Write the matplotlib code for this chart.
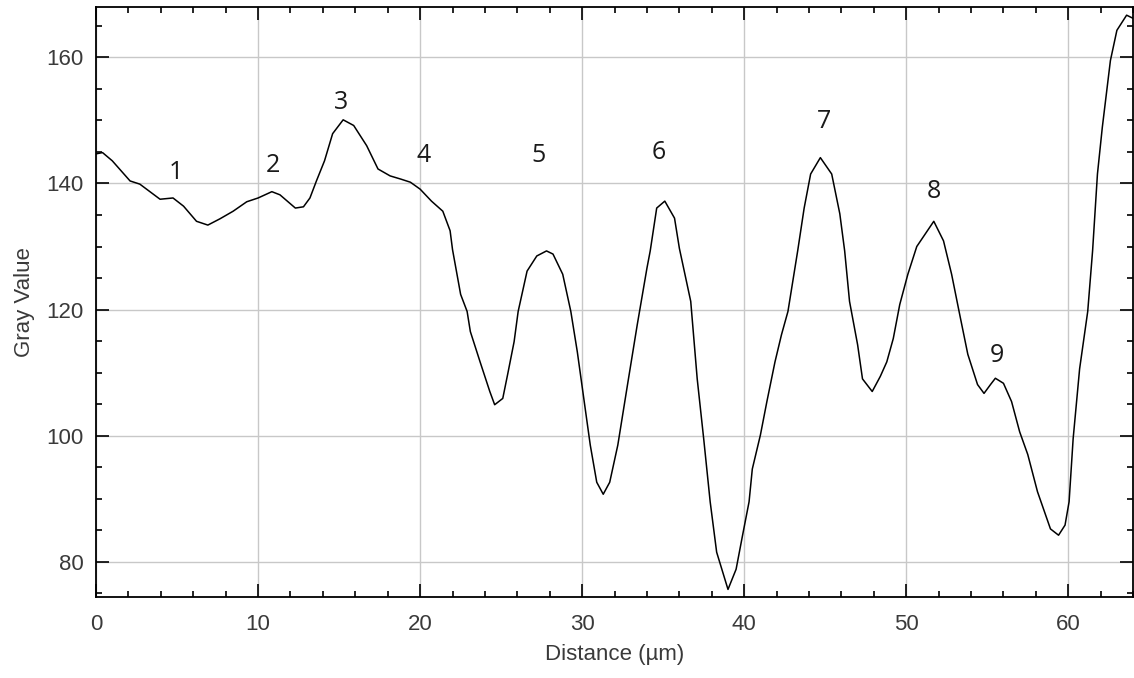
import numpy as np
from matplotlib import pyplot as plt
from matplotlib.ticker import MultipleLocator

# profile
distance = [0.0, 0.4, 1.0, 2.1, 2.7, 3.95, 4.75, 5.4, 6.2, 6.9, 7.65, 8.46, 9.3, 10.0,
            10.85, 11.35, 12.3, 12.8, 13.2, 13.6, 14.1, 14.6, 15.25, 15.9, 16.7, 17.4,
            18.15, 18.8, 19.4, 20.0, 20.7, 21.4, 21.85, 22.0, 22.5, 22.9, 23.1, 23.7,
            24.3, 24.6, 25.1, 25.4, 25.8, 26.05, 26.6, 27.2, 27.8, 28.2, 28.8, 29.3,
            29.7, 30.1, 30.5, 30.9, 31.3, 31.7, 32.2, 32.8, 33.4, 34.0, 34.2, 34.6,
            35.1, 35.7, 36.0, 36.7, 37.1, 37.5, 37.9, 38.3, 39.0, 39.5, 39.9, 40.3,
            40.5, 41.0, 41.4, 41.9, 42.3, 42.7, 43.0, 43.3, 43.7, 44.1, 44.7, 45.4,
            45.9, 46.2, 46.5, 47.0, 47.3, 47.9, 48.4, 48.8, 49.2, 49.6, 50.1, 50.65,
            51.7, 52.3, 52.8, 53.3, 53.8, 54.4, 54.8, 55.2, 55.5, 56.0, 56.5, 57.0,
            57.5, 58.1, 58.9, 59.4, 59.8, 60.05, 60.3, 60.7, 61.2, 61.5, 61.8, 62.1,
            62.6, 63.0, 63.6, 64.0]
gray = [144.7, 144.9, 143.6, 140.4, 139.9, 137.5, 137.7, 136.4, 134.0, 133.4, 134.4,
        135.6, 137.1, 137.7, 138.7, 138.2, 136.1, 136.3, 137.7, 140.4, 143.6, 147.9,
        150.1, 149.2, 146.0, 142.3, 141.2, 140.7, 140.2, 139.1, 137.2, 135.6, 132.5,
        129.5, 122.4, 119.7, 116.5, 111.7, 107.0, 104.9, 105.9, 109.7, 114.9, 119.7,
        126.1, 128.5, 129.3, 128.8, 125.6, 119.7, 113.3, 105.9, 98.5, 92.6, 90.7,
        92.6, 98.5, 108.1, 117.6, 126.6, 129.3, 136.1, 137.2, 134.5, 129.7, 121.3,
        109.0, 99.5, 89.5, 81.5, 75.6, 78.8, 84.2, 89.5, 94.7, 100.1, 105.4, 111.7,
        116.0, 119.7, 124.5, 129.3, 136.1, 141.5, 144.1, 141.5, 135.2, 129.3, 121.3,
        114.4, 109.0, 107.0, 109.4, 111.7, 115.4, 120.8, 125.6, 130.0, 134.0, 130.9,
        125.6, 119.2, 112.9, 108.1, 106.7, 108.1, 109.1, 108.3, 105.4, 100.6, 97.0,
        91.1, 85.2, 84.2, 85.8, 89.5, 99.5, 110.6, 119.7, 129.3, 141.5, 148.9, 159.5,
        164.3, 166.7, 166.2]

peak_labels = ['1', '2', '3', '4', '5', '6', '7', '8', '9']
label_x = [4.9, 10.9, 15.1, 20.2, 27.3, 34.75, 44.9, 51.7, 55.6]
label_y = [141.8, 142.9, 152.8, 144.4, 144.5, 144.9, 149.8, 138.8, 112.7]

plt.rcParams['font.family'] = ['Liberation Sans', 'DejaVu Sans']

fig = plt.figure(figsize=(11.34, 6.78), dpi=100)
ax = fig.add_axes([0.0847, 0.1195, 0.9145, 0.8702])

ax.plot(distance, gray, color='black', lw=1.1)

for t, x, y in zip(peak_labels, label_x, label_y):
    ax.text(x, y, t, ha='center', va='center', fontsize=18,
            family=['Open Sans', 'DejaVu Sans'], color='#1a1a1a')

ax.set_xlim(0, 64)
ax.set_ylim(74.4, 168)
ax.xaxis.set_major_locator(MultipleLocator(10))
ax.xaxis.set_minor_locator(MultipleLocator(2))
ax.yaxis.set_major_locator(MultipleLocator(20))
ax.yaxis.set_minor_locator(MultipleLocator(5))
ax.grid(True, which='major', color='#c8c8c8', lw=1.0)
ax.tick_params(which='both', direction='in', top=True, right=True,
               labelsize=16, labelcolor='#3a3a3a', width=1.2)
ax.tick_params(which='major', length=9.5)
ax.tick_params(axis='x', which='major', pad=12)
ax.tick_params(axis='y', which='major', pad=9)
ax.tick_params(which='minor', length=4)
for s in ax.spines.values():
    s.set_linewidth(1.3)

ax.set_xlabel('Distance (µm)', fontsize=16, color='#3a3a3a', labelpad=7)
ax.set_ylabel('Gray Value', fontsize=16, color='#3a3a3a', labelpad=8)

plt.savefig('out.png', dpi=100)
